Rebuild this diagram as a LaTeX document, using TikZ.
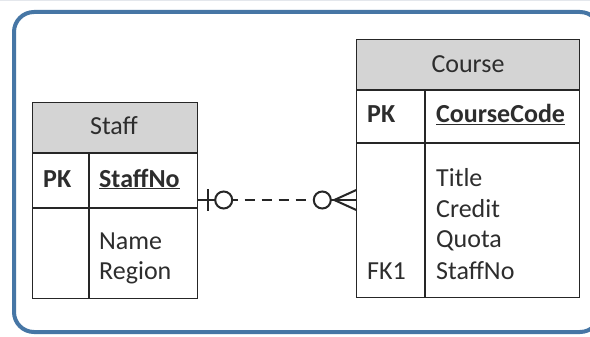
\documentclass[tikz,border=0pt]{standalone}
\usepackage{fontspec}
\setmainfont{Carlito}
\usetikzlibrary{calc}
\definecolor{framec}{RGB}{70,118,165}
\definecolor{headc}{RGB}{212,212,212}
\definecolor{txtc}{RGB}{45,45,45}
\definecolor{gridc}{RGB}{228,231,236}
\tikzset{
  tbl/.style={draw=black!85, line width=1.4pt, inner sep=0pt, minimum width=#1},
  sep/.style={draw=black!85, line width=1.4pt},
  lbl/.style={font=\fontsize{26}{30}\selectfont, text=txtc, inner sep=0pt},
  rel/.style={line width=2pt, draw=black!85},
}
\begin{document}
\begin{tikzpicture}[x=1pt,y=-1pt]
\useasboundingbox (0,0) rectangle (590,337);
\fill[white] (0,0) rectangle (590,337);
\draw[gridc, line width=0.4pt, step=11pt] (0,-337) grid (590,0);
\draw[framec, line width=4pt, rounded corners=20pt] (14,12) rectangle (600,332);
% Staff table
\node[tbl=164pt, minimum height=195pt] (staff) at (115,200.5) {};
\fill[white] (staff.north west) rectangle (staff.south east);
\fill[headc] (staff.north west) rectangle (197,153);
\draw[sep] (staff.north west) rectangle (staff.south east);
\draw[sep] (33,153) -- (197,153);
\draw[sep] (33,208) -- (197,208);
\draw[sep] (89,153) -- (89,298);
\node[lbl, anchor=base] (stafft) at (114,135) {Staff};
\node[lbl, anchor=base west] (staffpk) at (43,187) {\bfseries PK};
\node[lbl, anchor=base west] (staffno) at (99,187) {\bfseries\underline{StaffNo}};
\node[lbl, anchor=base west] (sname) at (99,249) {Name};
\node[lbl, anchor=base west] (sregion) at (99,279) {Region};
% Course table
\node[tbl=222pt, minimum height=257pt] (course) at (468,168.5) {};
\fill[white] (course.north west) rectangle (course.south east);
\fill[headc] (course.north west) rectangle (579,90);
\draw[sep] (course.north west) rectangle (course.south east);
\draw[sep] (357,90) -- (579,90);
\draw[sep] (357,143) -- (579,143);
\draw[sep] (425,90) -- (425,297);
\node[lbl, anchor=base] (courset) at (468,73) {Course};
\node[lbl, anchor=base west] (coursepk) at (367,123) {\bfseries PK};
\node[lbl, anchor=base west] (coursecode) at (436,123) {\bfseries\underline{CourseCode}};
\node[lbl, anchor=base west] (ctitle) at (436,186) {Title};
\node[lbl, anchor=base west] (ccredit) at (436,217) {Credit};
\node[lbl, anchor=base west] (cquota) at (436,247) {Quota};
\node[lbl, anchor=base west] (cstaff) at (436,279) {StaffNo};
\node[lbl, anchor=base west] (fk) at (367,279) {FK1};
% Relationship
\coordinate (s) at (staff.east |- 0,200);
\coordinate (c) at (course.west |- s);
\draw[rel] (s) -- ($(s)+(20,0)$);
\draw[rel] ($(s)+(10,-11)$) -- ($(s)+(10,11)$);
\draw[rel, fill=white] ($(s)+(26,0)$) circle (8.5pt);
\draw[rel] ($(s)+(34,0)$) -- ($(s)+(40,0)$);
\draw[rel, dash pattern=on 10pt off 7pt] ($(s)+(47,0)$) -- ($(c)+(-42,0)$);
\draw[rel] ($(c)+(-26,0)$) -- (c);
\draw[rel] ($(c)+(-22,0)$) -- ($(c)+(0,-10)$);
\draw[rel] ($(c)+(-22,0)$) -- ($(c)+(0,10)$);
\draw[rel, fill=white] ($(c)+(-34,0)$) circle (8.5pt);
\end{tikzpicture}
\end{document}
